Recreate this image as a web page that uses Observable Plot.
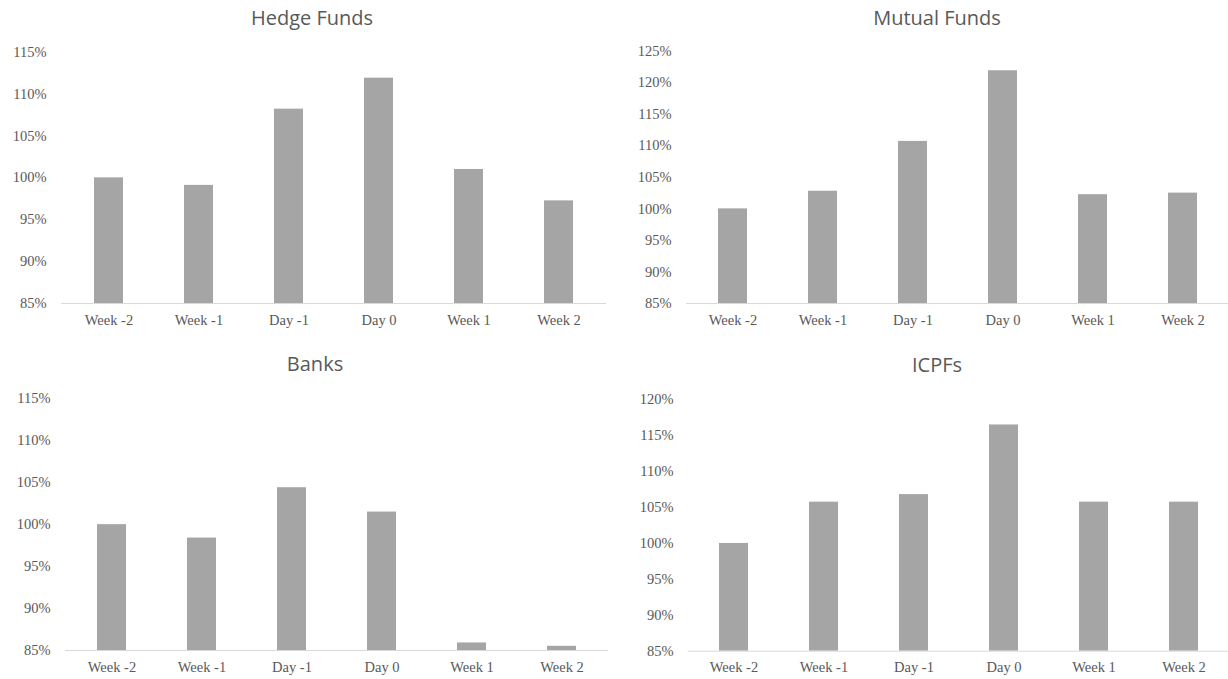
<!DOCTYPE html>
<html>
<head>
<meta charset="utf-8">
<script src="https://cdn.jsdelivr.net/npm/d3@7"></script>
<script src="https://cdn.jsdelivr.net/npm/@observablehq/plot@0.6"></script>
<style>
  html, body { margin: 0; padding: 0; background: #fff; }
  #root { position: relative; width: 1228px; height: 679px; overflow: hidden; background: #fff; }
  .panel { position: absolute; }
  .title { position: absolute; width: 300px; text-align: center; font-family: "Open Sans", sans-serif; font-size: 20px; line-height: 20px; color: #595959; white-space: nowrap; }
</style>
</head>
<body>
<div id="root"></div>
<script>
// ---- Data ----
const categories = ["Week -2", "Week -1", "Day -1", "Day 0", "Week 1", "Week 2"];
const hedgeFunds = [100, 99.1, 108.2, 111.9, 101.0, 97.25];
const mutualFunds = [100, 102.8, 110.7, 121.9, 102.25, 102.5];
const banks = [100, 98.4, 104.4, 101.5, 85.9, 85.5];
const icpfs = [100, 105.75, 106.8, 116.5, 105.75, 105.75];
const titles = ["Hedge Funds", "Mutual Funds", "Banks", "ICPFs"];
const yMin = 85;
const yMaxes = [115, 125, 115, 120];
const tickStep = 5;

const seriesList = [hedgeFunds, mutualFunds, banks, icpfs];

// ---- Layout ----
const layouts = [
  {left: 0,   top: 0,   width: 614, height: 340, mL: 61, mR: 8, mT: 51.7, mB: 37,   titleX: 312, titleTop: 8},
  {left: 614, top: 0,   width: 614, height: 340, mL: 72, mR: 0, mT: 50.7, mB: 37,   titleX: 323, titleTop: 8},
  {left: 0,   top: 340, width: 614, height: 339, mL: 65, mR: 6, mT: 58.3, mB: 29,   titleX: 315, titleTop: 14},
  {left: 614, top: 340, width: 614, height: 339, mL: 74, mR: 0, mT: 59.3, mB: 28.3, titleX: 323, titleTop: 15}
];

const root = document.getElementById("root");

seriesList.forEach((vals, i) => {
  const L = layouts[i];
  const data = categories.map((c, j) => ({cat: c, v: vals[j], base: yMin}));
  const ticks = d3.range(yMin, yMaxes[i] + 0.001, tickStep);
  const chart = Plot.plot({
    width: L.width,
    height: L.height,
    marginLeft: L.mL,
    marginRight: L.mR,
    marginTop: L.mT,
    marginBottom: L.mB,
    style: {fontFamily: "'Liberation Serif', serif", fontSize: "14.5px", color: "#595959", background: "transparent", overflow: "visible"},
    x: {domain: categories, paddingInner: 0.68, paddingOuter: 0.34, tickSize: 0, tickPadding: 11, label: null},
    y: {domain: [yMin, yMaxes[i]], ticks: ticks, tickFormat: d => d + "%", tickSize: 0, tickPadding: 15, label: null},
    marks: [
      Plot.barY(data, {x: "cat", y1: "base", y2: "v", fill: "#a5a5a5"}),
      Plot.ruleY([yMin], {stroke: "#d9d9d9", strokeWidth: 1})
    ]
  });
  const wrap = document.createElement("div");
  wrap.className = "panel";
  wrap.style.left = L.left + "px";
  wrap.style.top = L.top + "px";
  wrap.appendChild(chart);
  root.appendChild(wrap);

  const t = document.createElement("div");
  t.className = "title";
  t.textContent = titles[i];
  t.style.left = (L.left + L.titleX - 150) + "px";
  t.style.top = (L.top + L.titleTop) + "px";
  root.appendChild(t);
});
</script>
</body>
</html>
